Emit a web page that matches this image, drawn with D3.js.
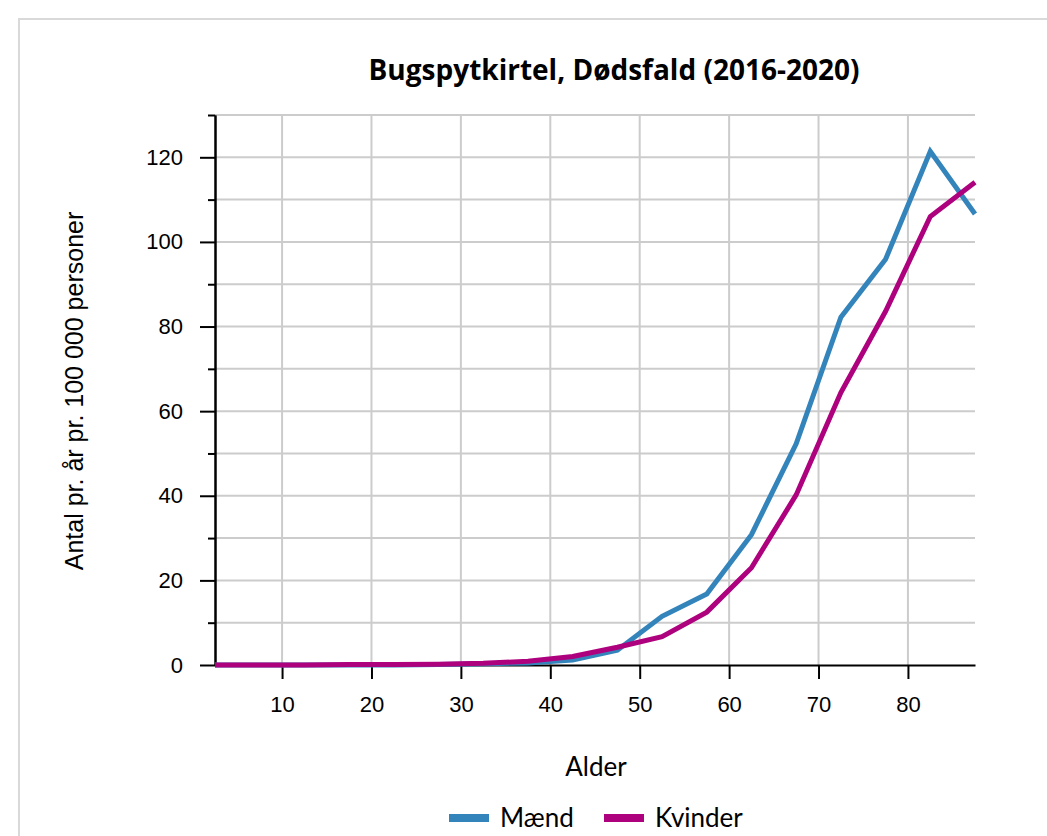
<!DOCTYPE html>
<html>
<head>
<meta charset="utf-8">
<script src="https://cdn.jsdelivr.net/npm/d3@7"></script>
<style>
	body { margin: 0; background: #fff; }
	#chart { width: 1047px; height: 836px; }
	.tick text { font-family: "Liberation Sans", Arial, sans-serif; font-size: 22px; fill: #000; }
</style>
</head>
<body>
<div id="chart"></div>
<script>
// age group midpoints
var ages = [2.5, 7.5, 12.5, 17.5, 22.5, 27.5, 32.5, 37.5, 42.5, 47.5, 52.5, 57.5, 62.5, 67.5, 72.5, 77.5, 82.5, 87.5];
var maend = [0, 0, 0, 0, 0, 0.1, 0.3, 0.5, 1.2, 3.5, 11.5, 16.8, 30.8, 52.3, 82.2, 95.9, 121.4, 106.6];
var kvinder = [0, 0, 0, 0.1, 0.1, 0.2, 0.4, 0.9, 2.0, 4.2, 6.7, 12.5, 23, 40.2, 64.4, 83.6, 106, 114.1];
var xTicks = [10, 20, 30, 40, 50, 60, 70, 80];
var seriesNames = ["Mænd", "Kvinder"];
var seriesColors = ["#3484bc", "#ae017e"];

var el = document.getElementById("chart");
var W = 1047, H = 836;
var margin = {top: 115, right: 72, bottom: 171, left: 215};
var width = W - margin.left - margin.right;
var height = H - margin.top - margin.bottom;

var svg = d3.select(el).append("svg")
	.attr("width", W)
	.attr("height", H);

// card border
svg.append("path")
	.attr("d", "M19," + H + "V19H" + W)
	.attr("fill", "none")
	.attr("stroke", "#d9d9d9")
	.attr("stroke-width", 2);

var g = svg.append("g").attr("transform", "translate(" + margin.left + "," + margin.top + ")");

var x = d3.scaleLinear().domain([2.5, 87.5]).range([0, width]);
var y = d3.scaleLinear().domain([0, 130]).range([height, 0]);

// grid
g.append("g").selectAll("line")
	.data(d3.range(10, 131, 10))
	.enter().append("line")
	.attr("x1", 0).attr("x2", width)
	.attr("y1", function(d) { return y(d); })
	.attr("y2", function(d) { return y(d); })
	.attr("stroke", "#cccccc").attr("stroke-width", 2);

g.append("g").selectAll("line")
	.data(xTicks)
	.enter().append("line")
	.attr("x1", function(d) { return x(d); })
	.attr("x2", function(d) { return x(d); })
	.attr("y1", 0).attr("y2", height)
	.attr("stroke", "#cccccc").attr("stroke-width", 2);

// axes
var xAxis = g.append("g")
	.attr("transform", "translate(0," + height + ")")
	.call(d3.axisBottom(x).tickValues(xTicks).tickSize(14).tickPadding(17).tickSizeOuter(0));

var yAxisMinor = g.append("g")
	.call(d3.axisLeft(y).tickValues(d3.range(10, 131, 20)).tickSize(7).tickFormat("").tickSizeOuter(0));
var yAxis = g.append("g")
	.call(d3.axisLeft(y).tickValues(d3.range(0, 121, 20)).tickSize(15).tickPadding(17).tickSizeOuter(0));

[xAxis, yAxis, yAxisMinor].forEach(function(a) {
	a.selectAll("path, line").attr("stroke", "#000").attr("stroke-width", 2);
});

// lines
var line = d3.line()
	.x(function(d, i) { return x(ages[i]); })
	.y(function(d) { return y(d); });

[maend, kvinder].forEach(function(s, i) {
	g.append("path")
		.datum(s)
		.attr("fill", "none")
		.attr("stroke", seriesColors[i])
		.attr("stroke-width", 5)
		.attr("stroke-linejoin", "miter")
		.attr("d", line);
});

// titles
svg.append("text")
	.attr("x", 614).attr("y", 80)
	.attr("text-anchor", "middle")
	.style("font-family", "'Open Sans', sans-serif")
	.style("font-weight", "bold")
	.style("font-size", "28px")
	.text("Bugspytkirtel, Dødsfald (2016-2020)");

svg.append("text")
	.attr("transform", "translate(83,391) rotate(-90)")
	.attr("text-anchor", "middle")
	.style("font-family", "'Liberation Sans', Arial, sans-serif")
	.style("font-size", "25px")
	.text("Antal pr. år pr. 100 000 personer");

svg.append("text")
	.attr("x", 596).attr("y", 776)
	.attr("text-anchor", "middle")
	.style("font-family", "Lato, 'Open Sans', sans-serif")
	.style("font-size", "26px")
	.text("Alder");

// legend
var legendX = [449, 604];
seriesNames.forEach(function(n, i) {
	var lg = svg.append("g").attr("transform", "translate(" + legendX[i] + ",818)");
	lg.append("rect").attr("x", 0).attr("y", -4).attr("width", 40).attr("height", 8).attr("fill", seriesColors[i]);
	lg.append("text").attr("x", 51).attr("y", 9)
		.style("font-family", "Lato, 'Open Sans', sans-serif")
		.style("font-size", "26px")
		.text(n);
});
</script>
</body>
</html>
